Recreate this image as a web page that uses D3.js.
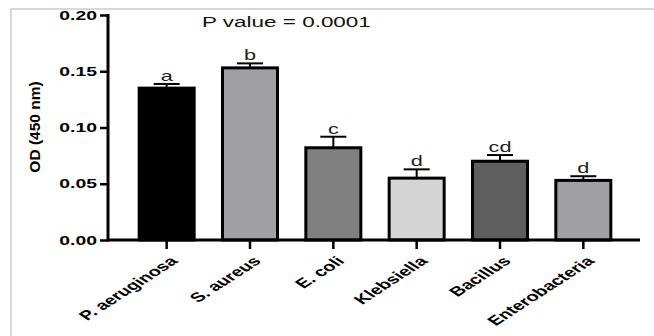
<!DOCTYPE html>
<html><head><meta charset="utf-8">
<script src="https://cdn.jsdelivr.net/npm/d3@7"></script>
<style>body{margin:0;background:#fff}svg{display:block}</style>
</head><body>
<script>
const categories = ["P. aeruginosa","S. aureus","E. coli","Klebsiella","Bacillus","Enterobacteria"];
const means = [0.135, 0.153, 0.082, 0.055, 0.070, 0.053];
const errors = [0.0037, 0.004, 0.0098, 0.0078, 0.0055, 0.0037];
const letters = ["a","b","c","d","cd","d"];
const fills = ["#000000","#a0a0a4","#808080","#d4d4d4","#5e5e5e","#a0a0a4"];
const yTicks = [0, 0.05, 0.10, 0.15, 0.20];

const W = 654, H = 336;
const SX = 1.55; // horizontal stretch of the original picture
const svg = d3.select("body").append("svg").attr("width", W).attr("height", H);

// frame
svg.append("line").attr("x1",11).attr("x2",W).attr("y1",9).attr("y2",9).attr("stroke","#d8d8d8").attr("stroke-width",2);
svg.append("line").attr("x1",11).attr("x2",11).attr("y1",9).attr("y2",H).attr("stroke","#d8d8d8").attr("stroke-width",2);

const axX = 108, axY = 240;
const y = d3.scaleLinear().domain([0,0.20]).range([240,15]);
const x = d3.scaleBand().domain(categories).range([125,625]).paddingInner(0.34).paddingOuter(0.17);

const font = "Arial, 'Liberation Sans', sans-serif";

// bars
categories.forEach((c,i)=>{
  const bx = x(c), bw = x.bandwidth(), cx = bx + bw/2;
  svg.append("rect").attr("x",bx).attr("y",y(means[i])).attr("width",bw).attr("height",y(0)-y(means[i]))
    .attr("fill",fills[i]).attr("stroke","#000").attr("stroke-width",3);
  const top = y(means[i]+errors[i]);
  svg.append("line").attr("x1",cx).attr("x2",cx).attr("y1",y(means[i])).attr("y2",top).attr("stroke","#000").attr("stroke-width",2);
  svg.append("line").attr("x1",cx-13).attr("x2",cx+13).attr("y1",top).attr("y2",top).attr("stroke","#000").attr("stroke-width",2);
  svg.append("text").attr("transform",`translate(${cx},${top-3}) scale(${SX},1)`).attr("text-anchor","middle")
    .attr("font-family",font).attr("font-size",14).attr("fill","#222").text(letters[i]);
});

// y axis
const yAxis = svg.append("g").attr("transform",`translate(${axX},0)`)
  .call(d3.axisLeft(y).tickValues(yTicks).tickFormat(d3.format(".2f")).tickSizeOuter(0).tickSize(8).tickPadding(3));
yAxis.select(".domain").remove();
yAxis.selectAll(".tick line").attr("stroke","#000").attr("stroke-width",2.5);
yAxis.selectAll(".tick text").attr("font-family",font).attr("font-size",12.5).attr("font-weight","bold").attr("fill","#000")
  .attr("x",0).attr("transform",`translate(-11,0) scale(${SX},1)`);
svg.append("line").attr("x1",axX).attr("x2",axX).attr("y1",y(0.20)-1).attr("y2",axY+1.5).attr("stroke","#000").attr("stroke-width",3);

// x axis
svg.append("line").attr("x1",axX).attr("x2",640).attr("y1",axY).attr("y2",axY).attr("stroke","#000").attr("stroke-width",3);
const xAxis = svg.append("g").attr("transform",`translate(0,${axY})`)
  .call(d3.axisBottom(x).tickSize(9).tickSizeOuter(0));
xAxis.select(".domain").remove();
xAxis.selectAll(".tick line").attr("stroke","#000").attr("stroke-width",2.5);
xAxis.selectAll(".tick text")
  .attr("font-family",font).attr("font-size",13).attr("font-weight","bold").attr("fill","#000")
  .attr("text-anchor","end").attr("dy",0).attr("y",0)
  .attr("transform",`translate(12,22) scale(${SX},1) rotate(-45)`);

// y label
svg.append("text").attr("transform","translate(40,127) rotate(-90)").attr("text-anchor","middle")
  .attr("font-family",font).attr("font-size",15.5).attr("font-weight","bold").text("OD (450 nm)");

// p value
svg.append("text").attr("transform",`translate(202,27) scale(${SX},1)`).attr("font-family",font).attr("font-size",14.5).attr("fill","#111")
  .text("P value = 0.0001");
</script>
</body></html>
